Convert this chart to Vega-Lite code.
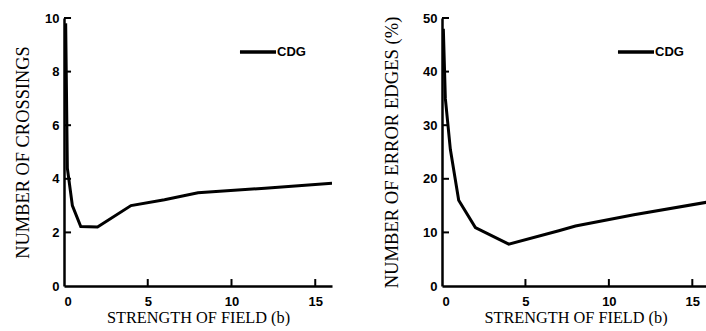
{
  "$schema": "https://vega.github.io/schema/vega-lite/v6.json",
  "padding": {"left": 13, "top": 12, "right": 0, "bottom": 0},
  "background": "white",
  "spacing": 50,
  "datasets": {
    "crossings": [
      {"b": 0.1, "v": 9.8},
      {"b": 0.2, "v": 4.4},
      {"b": 0.5, "v": 3.0},
      {"b": 1, "v": 2.22},
      {"b": 2, "v": 2.2},
      {"b": 4, "v": 3.0},
      {"b": 6, "v": 3.22},
      {"b": 8, "v": 3.48},
      {"b": 12, "v": 3.65},
      {"b": 16, "v": 3.83}
    ],
    "errors": [
      {"b": 0.08, "v": 48},
      {"b": 0.2, "v": 35},
      {"b": 0.5, "v": 25.5},
      {"b": 1, "v": 16},
      {"b": 2, "v": 10.9},
      {"b": 4, "v": 7.8},
      {"b": 7, "v": 10.3},
      {"b": 8, "v": 11.2},
      {"b": 11.5, "v": 13.3},
      {"b": 16, "v": 15.7}
    ],
    "xtickvals": [{"tx": 5}, {"tx": 10}, {"tx": 15}],
    "ytickvals1": [{"ty": 2}, {"ty": 4}, {"ty": 6}, {"ty": 8}, {"ty": 10}],
    "ytickvals2": [{"ty": 10}, {"ty": 20}, {"ty": 30}, {"ty": 40}, {"ty": 50}]
  },
  "config": {
    "view": {"stroke": null},
    "axis": {
      "grid": false,
      "ticks": false,
      "domainColor": "black",
      "domainWidth": 2.5,
      "labelPadding": 5,
      "labelFont": "Liberation Sans",
      "labelFontWeight": "bold",
      "labelFontSize": 13,
      "labelColor": "black",
      "titleFont": "Liberation Serif",
      "titleFontSize": 16.3,
      "titleFontWeight": "normal",
      "titleColor": "black"
    },
    "axisX": {"labelPadding": 9, "titlePadding": 1},
    "legend": {
      "orient": "none",
      "legendX": 174,
      "legendY": 14,
      "title": null,
      "symbolType": "stroke",
      "symbolSize": 1300,
      "symbolStrokeWidth": 3.5,
      "symbolStrokeColor": "black",
      "labelFont": "Liberation Sans",
      "labelFontWeight": "bold",
      "labelFontSize": 13,
      "labelColor": "black",
      "labelOffset": -1
    }
  },
  "hconcat": [
    {
      "width": 268,
      "height": 268,
      "layer": [
        {
          "data": {"name": "crossings"},
          "mark": {"type": "line", "strokeWidth": 3, "clip": true, "color": "black"},
          "encoding": {
            "x": {"field": "b", "type": "quantitative", "scale": {"domain": [0, 16], "nice": false},
              "axis": {"values": [0, 5, 10, 15], "title": "STRENGTH OF FIELD (b)"}},
            "y": {"field": "v", "type": "quantitative", "scale": {"domain": [0, 10], "nice": false},
              "axis": {"values": [0, 2, 4, 6, 8, 10], "title": "NUMBER OF CROSSINGS", "titleFontSize": 18.4, "titlePadding": 12}},
            "stroke": {"datum": "CDG", "scale": {"range": ["black"]}}
          }
        },
        {
          "data": {"name": "xtickvals"},
          "mark": {"type": "rule", "strokeWidth": 2, "stroke": "black"},
          "encoding": {
            "x": {"field": "tx", "type": "quantitative"},
            "y": {"datum": 0},
            "y2": {"datum": 0.26}
          }
        },
        {
          "data": {"name": "ytickvals1"},
          "mark": {"type": "rule", "strokeWidth": 2, "stroke": "black"},
          "encoding": {
            "y": {"field": "ty", "type": "quantitative"},
            "x": {"datum": 0},
            "x2": {"datum": 0.42}
          }
        }
      ]
    },
    {
      "width": 267,
      "height": 268,
      "layer": [
        {
          "data": {"name": "errors"},
          "mark": {"type": "line", "strokeWidth": 3, "clip": true, "color": "black"},
          "encoding": {
            "x": {"field": "b", "type": "quantitative", "scale": {"domain": [0, 16], "nice": false},
              "axis": {"values": [0, 5, 10, 15], "title": "STRENGTH OF FIELD (b)"}},
            "y": {"field": "v", "type": "quantitative", "scale": {"domain": [0, 50], "nice": false},
              "axis": {"values": [0, 10, 20, 30, 40, 50], "title": "NUMBER OF ERROR EDGES (%)", "titleFontSize": 18.6, "titlePadding": 21}},
            "stroke": {"datum": "CDG", "scale": {"range": ["black"]}}
          }
        },
        {
          "data": {"name": "xtickvals"},
          "mark": {"type": "rule", "strokeWidth": 2, "stroke": "black"},
          "encoding": {
            "x": {"field": "tx", "type": "quantitative"},
            "y": {"datum": 0},
            "y2": {"datum": 1.3}
          }
        },
        {
          "data": {"name": "ytickvals2"},
          "mark": {"type": "rule", "strokeWidth": 2, "stroke": "black"},
          "encoding": {
            "y": {"field": "ty", "type": "quantitative"},
            "x": {"datum": 0},
            "x2": {"datum": 0.42}
          }
        }
      ]
    }
  ],
  "resolve": {"scale": {"stroke": "independent"}, "legend": {"stroke": "independent"}}
}
